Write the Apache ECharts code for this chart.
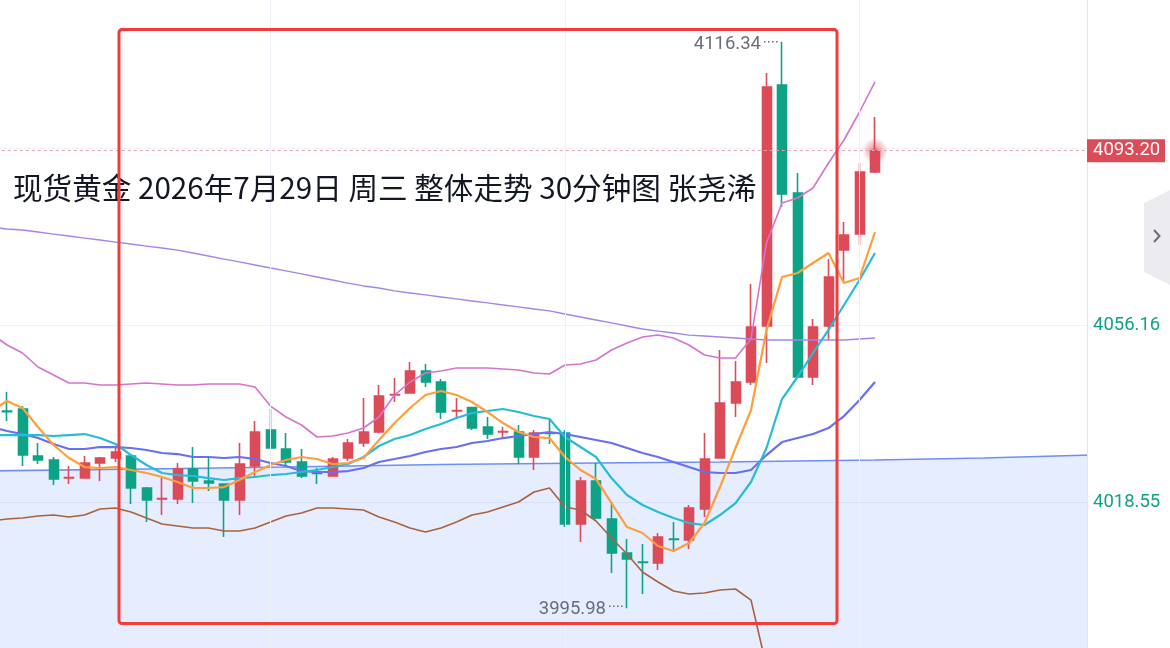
<!DOCTYPE html>
<html><head><meta charset="utf-8">
<script src="https://cdn.jsdelivr.net/npm/echarts@6/dist/echarts.min.js"></script>
<style>html,body{margin:0;padding:0;background:#fff;overflow:hidden;width:1170px;height:648px;position:relative}
#c{position:absolute;left:-40px;top:-40px;width:1250px;height:728px}</style>
</head><body><div id="c"></div>
<script>
// ---------- DATA ----------
const categories = [
'07-27 23:30',
'07-28 00:00','07-28 00:30','07-28 01:00','07-28 01:30','07-28 02:00','07-28 02:30','07-28 03:00','07-28 03:30',
'07-28 04:00','07-28 04:30','07-28 05:00','07-28 05:30','07-28 06:00','07-28 06:30','07-28 07:00','07-28 07:30',
'07-28 08:00','07-28 08:30','07-28 09:00','07-28 09:30','07-28 10:00','07-28 10:30','07-28 11:00','07-28 11:30',
'07-28 12:00','07-28 12:30','07-28 13:00','07-28 13:30','07-28 14:00','07-28 14:30','07-28 15:00','07-28 15:30',
'07-28 16:00','07-28 16:30','07-28 17:00','07-28 17:30','07-28 18:00','07-28 18:30','07-28 19:00','07-28 19:30',
'07-28 20:00','07-28 20:30','07-28 21:00','07-28 21:30','07-28 22:00','07-28 22:30','07-28 23:00','07-28 23:30',
'07-29 00:00','07-29 00:30','07-29 01:00','07-29 01:30','07-29 02:00','07-29 02:30','07-29 03:00','07-29 03:30','07-29 04:00',
'07-29 04:30','07-29 05:00','07-29 05:30','07-29 06:00','07-29 06:30','07-29 07:00','07-29 07:30','07-29 08:00',
'07-29 08:30','07-29 09:00','07-29 09:30','07-29 10:00','07-29 10:30','07-29 11:00'
];
// 57 real bars (category 1..57)
const openP = [4037.88,4038.31,4028.32,4027.47,4023.64,4023.64,4026.83,4027.89,4028.32,4021.52,
4019.18,4019.18,4025.56,4023.01,4022.37,4018.97,4026.19,4033.84,4029.81,4027.04,
4024.71,4024.07,4027.89,4031.08,4033.42,4041.28,4041.71,4046.38,4044.04,4037.88,
4038.60,4034.48,4033.42,4033.42,4028.11,4033.21,4033.21,4013.87,4023.01,4014.93,
4007.71,4005.79,4005.58,4010.68,4010.47,4017.06,4027.89,4039.58,4044.04,4055.94,
4107.16,4084.21,4045.11,4055.94,4072.09,4075.49,4088.67];
const closeP = [4037.76,4028.53,4027.47,4023.43,4023.75,4026.83,4027.89,4029.17,4021.52,4018.97,
4019.30,4025.56,4023.01,4022.58,4018.97,4026.62,4033.42,4030.02,4027.04,4024.07,
4024.60,4027.68,4031.08,4033.42,4041.07,4041.40,4046.38,4044.04,4037.67,4038.00,
4034.27,4032.99,4033.54,4028.11,4033.21,4033.10,4013.87,4023.01,4015.14,4007.71,
4006.43,4005.70,4011.11,4010.60,4017.27,4027.68,4039.58,4044.04,4055.73,4106.73,
4083.99,4045.11,4055.73,4066.36,4075.28,4088.67,4093.20];
const lowP = [4035.76,4026.19,4026.62,4022.16,4022.37,4023.50,4023.01,4027.04,4018.12,4014.29,
4015.78,4018.12,4018.33,4020.88,4011.11,4015.78,4023.86,4029.81,4026.41,4023.64,
4022.37,4024.00,4027.26,4030.23,4033.21,4039.79,4041.60,4042.98,4036.18,4036.61,
4033.84,4031.93,4031.93,4026.62,4025.34,4030.87,4013.23,4010.04,4014.93,4003.46,
3995.98,3998.99,4004.09,4007.92,4008.56,4015.36,4027.80,4036.61,4043.41,4048.08,
4081.23,4044.89,4043.41,4052.97,4065.08,4073.16,4088.46];
const highP = [4041.92,4038.94,4031.08,4028.11,4026.19,4028.32,4028.11,4030.02,4028.74,4021.73,
4023.64,4026.83,4030.23,4028.11,4022.50,4031.08,4035.76,4038.31,4033.21,4029.81,
4025.77,4028.11,4031.93,4040.64,4043.41,4044.89,4048.29,4047.87,4044.68,4040.64,
4038.73,4036.61,4034.48,4034.91,4033.84,4036.39,4033.84,4023.86,4026.83,4018.54,
4010.68,4009.62,4011.96,4014.29,4017.91,4033.21,4050.84,4048.51,4064.87,4109.71,
4116.34,4088.46,4057.43,4070.18,4078.04,4090.58,4100.36];

// indicator lines (58 values: category 0..57)
const maFast = [4037.88,4040.01,4038.52,4034.48,4030.66,4027.90,4025.98,4025.77,4025.98,4025.35,4024.71,
4023.86,4022.80,4021.52,4021.52,4021.73,4023.22,4024.92,4026.41,4027.47,4028.11,
4027.68,4026.62,4026.83,4027.90,4031.72,4035.33,4038.52,4041.28,4042.13,4041.28,
4039.80,4037.67,4035.33,4033.42,4032.36,4032.14,4028.11,4025.35,4023.43,4018.33,
4013.23,4011.96,4009.20,4008.13,4009.83,4014.08,4021.73,4030.02,4038.09,4055.10,
4066.36,4067.21,4069.33,4071.46,4065.08,4066.15,4075.92];
const maMid = [4032.78,4032.78,4032.82,4032.74,4032.57,4032.78,4032.99,4032.14,4030.87,4028.53,4026.41,
4024.71,4024.28,4024.07,4023.64,4023.22,4023.64,4023.86,4024.28,4024.50,4024.92,
4025.35,4025.98,4026.62,4028.11,4030.45,4031.93,4032.78,4034.06,4035.12,4036.39,
4037.46,4037.88,4038.31,4037.67,4036.82,4036.18,4032.36,4030.23,4028.11,4023.64,
4020.03,4017.91,4016.42,4015.14,4014.08,4013.66,4015.78,4018.33,4022.80,4030.02,
4040.43,4045.11,4050.21,4055.10,4060.41,4065.72,4071.46];
const bbMid = [4034.48,4033.63,4032.99,4032.14,4030.87,4029.81,4029.81,4030.23,4030.23,4030.02,4029.60,
4028.96,4028.74,4028.11,4028.11,4027.90,4028.11,4027.68,4026.83,4026.19,4025.13,
4024.92,4024.92,4025.13,4025.77,4027.05,4027.68,4028.32,4029.17,4029.81,4030.23,
4031.08,4031.51,4032.14,4032.57,4032.99,4033.42,4032.99,4032.36,4031.72,4031.08,
4030.02,4028.96,4028.11,4027.05,4025.98,4024.92,4024.71,4024.71,4025.35,4028.53,
4031.29,4032.14,4032.99,4034.27,4036.82,4040.22,4044.05];
const bbUpper = [4054.25,4051.91,4050.21,4047.23,4045.53,4043.83,4043.83,4043.41,4043.41,4043.62,4043.83,
4043.62,4043.41,4043.41,4043.62,4043.62,4043.62,4042.98,4038.94,4036.61,4034.91,
4032.36,4032.57,4033.21,4034.27,4036.61,4041.28,4044.05,4045.96,4046.38,4047.02,
4047.02,4047.02,4046.81,4046.60,4045.96,4045.75,4047.66,4047.87,4048.72,4050.85,
4052.34,4053.61,4054.03,4053.40,4051.91,4049.78,4049.15,4049.15,4053.19,4073.59,
4082.09,4083.15,4085.28,4090.59,4095.47,4101.42,4107.80];
const bbLower = [4014.51,4014.93,4015.15,4015.57,4015.78,4015.36,4015.78,4017.06,4017.27,4016.42,4015.15,
4013.87,4013.45,4013.02,4013.02,4012.38,4012.38,4013.02,4014.29,4015.57,4016.21,
4017.27,4017.27,4017.06,4016.85,4015.36,4014.29,4013.02,4012.17,4013.02,4014.29,
4015.78,4016.42,4017.49,4018.55,4020.67,4021.52,4017.49,4016.85,4014.51,4010.90,
4007.50,4003.67,4001.55,3999.63,3998.99,3999.21,3999.85,4000.06,3997.72,3983.50,
3980.50,3981.10,3980.70,3978.00,3978.50,3979.00,3980.40];
const maLong = [4076.98,4076.56,4076.35,4075.92,4075.49,4075.07,4074.64,4074.22,4073.79,4073.37,4072.94,
4072.52,4072.09,4071.46,4070.82,4070.18,4069.55,4068.91,4068.27,4067.64,4067.00,
4066.36,4065.72,4065.08,4064.45,4064.02,4063.39,4062.96,4062.54,4062.11,4061.69,
4061.26,4060.84,4060.41,4059.99,4059.56,4059.14,4058.50,4057.86,4057.22,4056.59,
4055.95,4055.31,4054.88,4054.46,4054.03,4053.82,4053.61,4053.40,4053.19,4052.97,
4052.97,4052.97,4052.97,4052.97,4052.97,4053.19,4053.40];
// shaded band edge (72 categories, read at a few bars)
const cloudEdge = [4025.17,'-','-','-','-','-','-','-','-','-',4025.56,'-','-','-','-','-','-','-','-',4025.98,
'-','-','-','-','-','-','-','-','-',4026.51,'-','-','-','-','-','-','-','-','-',4026.83,
'-','-','-','-','-','-','-',4027.05,'-','-','-','-','-','-','-','-','-',4027.47,'-','-',
'-','-','-','-',4027.90,'-','-','-','-','-','-',4028.54];

const yTickLabels = ['4056.16','4018.55'];
const lastPrice = 4093.20;
const highIdx = 51, lowIdx = 41, lastIdx = 57;
const titleText = '现货黄金 2026年7月29日 周三 整体走势 30分钟图 张尧浠';

// ---------- CHART ----------
const OX = 40, OY = 40; // container is offset by this much (CSS)
const UP = '#db4b58', DOWN = '#0ea387';
const FUT = categories.length - 58;
const padL = a => a.concat(new Array(FUT).fill('-'));
const candleData = ['-'].concat(openP.map((o, i) => [o, closeP[i], lowP[i], highP[i]])).concat(new Array(FUT).fill('-'));

const chart = echarts.init(document.getElementById('c'), null, {renderer: 'canvas'});
const lineS = (name, data, color, w, z) => ({
  name, type: 'line', data: padL(data), symbol: 'none', z: z || 3,
  lineStyle: {color, width: w}, itemStyle: {color}, silent: true, animation: false
});

chart.setOption({
  animation: false,
  backgroundColor: '#ffffff',
  grid: {left: OX - 16.25, top: OY - 29, width: 1116, height: 708, containLabel: false},
  xAxis: {type: 'category', data: categories, boundaryGap: true, show: false},
  yAxis: [{
    type: 'value', min: 3980.94, max: 4131.38, interval: 37.61, position: 'right', offset: -6.75, z: 10,
    axisLine: {show: false}, axisTick: {show: false}, splitLine: {show: false},
    axisLabel: {margin: 0, color: '#12a186', fontSize: 18.5, fontFamily: 'Roboto',
      formatter: v => { const s = v.toFixed(2); return yTickLabels.indexOf(s) >= 0 ? s : ''; }}
  }, {
    type: 'value', min: 3980.94, max: 4131.38, interval: 37.61, position: 'right', z: 0,
    axisLine: {show: false}, axisTick: {show: false}, axisLabel: {show: false},
    splitLine: {show: true, lineStyle: {color: '#eef1f7', width: 1}}
  }],
  series: [
    {
      name: 'cloud', type: 'line', data: cloudEdge, connectNulls: true, symbol: 'none', z: 1, silent: true,
      lineStyle: {color: '#6f8ef6', width: 1.6},
      areaStyle: {color: 'rgba(41,98,255,0.17)', origin: 'start'},
      markLine: {silent: true, symbol: 'none', label: {show: false},
        lineStyle: {color: '#eef1f7', type: 'solid', width: 1},
        data: [{xAxis: categories[18]}, {xAxis: categories[37]}, {xAxis: categories[56]}]}
    },
    {
      name: 'K', type: 'candlestick', data: candleData, barWidth: 9.5, z: 2,
      itemStyle: {color: UP, color0: DOWN, borderColor: UP, borderColor0: DOWN, borderWidth: 1.6},
      markLine: {silent: true, symbol: 'none', label: {show: false},
        lineStyle: {color: '#e8a3aa', type: [3, 3], width: 1},
        data: [{yAxis: lastPrice}]}
    },
    lineS('MA long', maLong, '#a585e8', 1.3),
    lineS('BOLL UP', bbUpper, '#d673cf', 1.6),
    lineS('BOLL DN', bbLower, '#a8633d', 1.6),
    lineS('BOLL MID', bbMid, '#686ff0', 2.2),
    lineS('MA mid', maMid, '#26bcd8', 2.2),
    lineS('MA fast', maFast, '#ff9e3d', 2.2),
    {
      name: 'last', type: 'scatter', z: 4, silent: true,
      data: [[lastIdx, lastPrice]], symbolSize: 26,
      itemStyle: {color: new echarts.graphic.RadialGradient(0.5, 0.5, 0.5, [
        {offset: 0, color: 'rgba(222,70,85,0.95)'},
        {offset: 0.3, color: 'rgba(222,70,85,0.6)'},
        {offset: 1, color: 'rgba(222,70,85,0)'}])}
    }
  ]
});

// ---------- overlay texts / annotations ----------
const hp = chart.convertToPixel({gridIndex: 0}, [highIdx, highP[highIdx - 1]]);
const lp = chart.convertToPixel({gridIndex: 0}, [lowIdx, lowP[lowIdx - 1]]);
const py = chart.convertToPixel({yAxisIndex: 0}, lastPrice);
const numFont = {fontSize: 18.5, fontFamily: 'Roboto'};

chart.setOption({
  graphic: [
    {type: 'rect', silent: true, z: 5, shape: {x: OX + 1088, y: 0, width: 200, height: 728}, style: {fill: '#ffffff'}},
    {type: 'line', silent: true, z: 6, shape: {x1: OX + 1087.5, y1: 0, x2: OX + 1087.5, y2: 728}, style: {stroke: '#e2e5ec', lineWidth: 1}},
    {type: 'text', silent: true, z: 15, x: OX + 13, y: OY + 188,
      style: {text: titleText, fontSize: 29.6, fontFamily: '"Noto Sans CJK SC", sans-serif', fill: '#131722', align: 'left', verticalAlign: 'middle'}},
    {type: 'rect', silent: true, z: 16, shape: {x: OX + 119, y: OY + 29.5, width: 718, height: 594, r: 3},
      style: {fill: 'none', stroke: '#f23c3c', lineWidth: 3}},
    // high label
    {type: 'text', silent: true, z: 15, x: hp[0] - 21, y: hp[1] + 3,
      style: Object.assign({text: highP[highIdx - 1].toFixed(2), fill: '#6a6d78', align: 'right', verticalAlign: 'middle'}, numFont)},
    {type: 'line', silent: true, z: 15, shape: {x1: hp[0] - 18, y1: hp[1], x2: hp[0] - 2, y2: hp[1]},
      style: {stroke: '#6a6d78', lineWidth: 1.5, lineDash: [1.5, 2.5]}},
    // low label
    {type: 'text', silent: true, z: 15, x: lp[0] - 21, y: lp[1] + 1,
      style: Object.assign({text: lowP[lowIdx - 1].toFixed(2), fill: '#6a6d78', align: 'right', verticalAlign: 'middle'}, numFont)},
    {type: 'line', silent: true, z: 15, shape: {x1: lp[0] - 18, y1: lp[1] - 2, x2: lp[0] - 2, y2: lp[1] - 2},
      style: {stroke: '#6a6d78', lineWidth: 1.5, lineDash: [1.5, 2.5]}},
    // last price tag
    {type: 'rect', silent: true, z: 20, shape: {x: OX + 1087, y: py - 11.5, width: 78, height: 23}, style: {fill: '#db4c58'}},
    {type: 'text', silent: true, z: 21, x: OX + 1093, y: py,
      style: Object.assign({text: lastPrice.toFixed(2), fill: '#ffffff', align: 'left', verticalAlign: 'middle'}, numFont)},
    // right collapse button
    {type: 'polygon', silent: true, z: 20, shape: {points: [[OX + 1170, OY + 190], [OX + 1144, OY + 203], [OX + 1144, OY + 272], [OX + 1170, OY + 285]]}, style: {fill: '#ebebf0'}},
    {type: 'polyline', silent: true, z: 21, shape: {points: [[OX + 1154, OY + 230], [OX + 1159.5, OY + 236], [OX + 1154, OY + 242]]}, style: {stroke: '#6a6d78', lineWidth: 2, fill: 'none'}}
  ]
});
</script>
</body></html>
